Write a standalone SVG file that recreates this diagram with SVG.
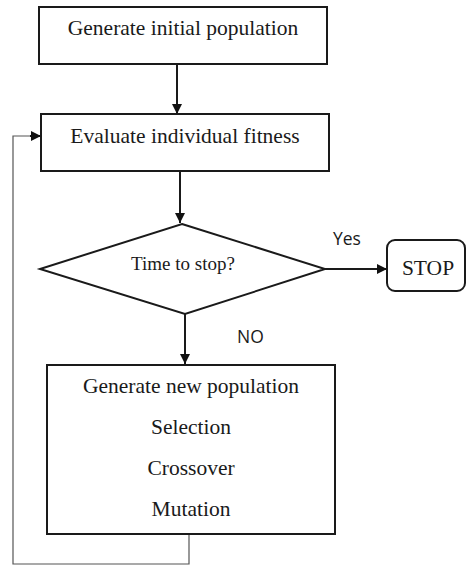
<svg xmlns="http://www.w3.org/2000/svg" width="467" height="566" viewBox="0 0 467 566">
<defs>
<marker id="ah" markerWidth="10" markerHeight="10" refX="10" refY="5" orient="auto" markerUnits="userSpaceOnUse">
<path d="M0,0 L10,5 L0,10 Z" fill="#111"/>
</marker>
<style>
.box{fill:#fff;stroke:#1a1a1a;stroke-width:2}
.t{font-family:"Liberation Serif","Times New Roman",serif;font-size:21.5px;fill:#1a1a1a;text-anchor:middle}
.s{font-family:"Open Sans","Liberation Sans",sans-serif;font-size:17.5px;fill:#1a1a1a}
.c{fill:none;stroke:#1a1a1a;stroke-width:2}
.loop{fill:none;stroke:#555;stroke-width:1.2}
</style>
</defs>
<rect width="467" height="566" fill="#fff"/>
<g id="connectors">
<line class="c" x1="177" y1="64" x2="177" y2="114" marker-end="url(#ah)"/>
<line class="c" x1="180" y1="171" x2="180" y2="223" marker-end="url(#ah)"/>
<line class="c" x1="325" y1="269" x2="387" y2="269" marker-end="url(#ah)"/>
<line class="c" x1="185" y1="314" x2="185" y2="364" marker-end="url(#ah)"/>
<polyline class="loop" points="189,534 189,564 13,564 13,136 32,136"/>
<line class="c" x1="30" y1="136" x2="41" y2="136" marker-end="url(#ah)"/>
<text class="s" x="333" y="245">Yes</text>
<text class="s" x="237" y="343">NO</text>
</g>
<g id="init">
<rect class="box" x="39" y="7" width="288" height="57"/>
<text class="t" x="183" y="35">Generate initial population</text>
</g>
<g id="evaluate">
<rect class="box" x="41" y="114" width="288" height="57"/>
<text class="t" x="185" y="143">Evaluate individual fitness</text>
</g>
<g id="decision">
<polygon class="box" points="182,224 325,269 185,314 40,269"/>
<text class="t" x="183" y="270" style="font-size:19px">Time to stop?</text>
</g>
<g id="stop">
<rect class="box" x="387" y="240" width="78" height="51" rx="8"/>
<text class="t" x="428" y="275">STOP</text>
</g>
<g id="newpop">
<rect class="box" x="47" y="365" width="288" height="169"/>
<text class="t" x="191" y="393">Generate new population</text>
<text class="t" x="191" y="434">Selection</text>
<text class="t" x="191" y="475">Crossover</text>
<text class="t" x="191" y="516">Mutation</text>
</g>
</svg>
